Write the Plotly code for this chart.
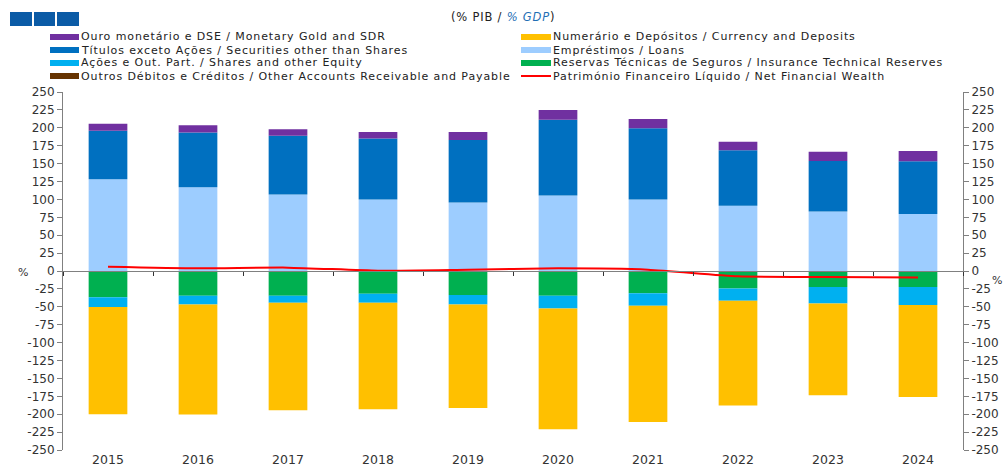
import plotly.graph_objects as go

# Household financial balance sheet, % of GDP
years = ["2015", "2016", "2017", "2018", "2019", "2020", "2021", "2022", "2023", "2024"]

# assets (stacked upwards)
loans = [128, 117, 107, 100, 95.5, 105.3, 99.7, 91.3, 83, 79.6]
securities = [68, 76.5, 82, 85, 87.5, 106, 99.6, 77.3, 70.6, 73.6]
gold_sdr = [9.7, 10, 9, 9, 11, 13.6, 13, 12, 13, 14.4]

# liabilities (stacked downwards)
insurance = [-36.7, -34.4, -34.4, -31.6, -33.5, -34.4, -31.2, -24.3, -22.4, -22.4]
shares = [-13.6, -12.5, -9.8, -12.6, -13.4, -18.1, -17.4, -17.3, -22.9, -25.2]
currency = [-149.7, -153.6, -150.4, -149, -144.4, -168.5, -162.4, -146.4, -128.3, -128.4]
other_accounts = [0, 0, 0, 0, 0, 0, 0, 0, 0, 0]

net_wealth = [6, 3.7, 4.7, 0.5, 1.9, 3.7, 1.9, -7.4, -8.3, -9.2]

y_tickvals = list(range(-250, 251, 25))
y_ticktext = [str(v) for v in y_tickvals]

names = {
    "gold": "Ouro monetário e DSE / Monetary Gold and SDR",
    "currency": "Numerário e Depósitos / Currency and Deposits",
    "securities": "Títulos exceto Ações / Securities other than Shares",
    "loans": "Empréstimos / Loans",
    "shares": "Ações e Out. Part. / Shares and other Equity",
    "insurance": "Reservas Técnicas de Seguros / Insurance Technical Reserves",
    "other": "Outros Débitos e Créditos / Other Accounts Receivable and Payable",
    "net": "Património Financeiro Líquido / Net Financial Wealth",
}
colors = {
    "gold": "#7030A0",
    "currency": "#FFC000",
    "securities": "#0070C0",
    "loans": "#9DCDFF",
    "shares": "#00B0F0",
    "insurance": "#00B050",
    "other": "#663300",
    "net": "#FF0000",
}

FONT = "DejaVu Sans"
W, H = 1004, 468
ML, MR, MT, MB = 63, 41, 92, 18


def px_x(x):
    return (x - ML) / (W - ML - MR)


def px_y(y):
    return (H - MB - y) / (H - MT - MB)


fig = go.Figure()

bar_series = [
    ("loans", loans),
    ("securities", securities),
    ("gold", gold_sdr),
    ("insurance", insurance),
    ("shares", shares),
    ("currency", currency),
    ("other", other_accounts),
]
for key, vals in bar_series:
    fig.add_trace(go.Bar(
        x=years, y=vals, name=names[key], marker_color=colors[key],
        marker_line_width=0, showlegend=False,
    ))

fig.add_trace(go.Scatter(
    x=years, y=net_wealth, name=names["net"], mode="lines",
    line=dict(color=colors["net"], width=2, shape="spline", smoothing=0.6),
    xaxis="x2", yaxis="y2", showlegend=False,
))

axis_line = "#808080"
tick_font = dict(family=FONT, size=12, color="#333333")
fig.update_layout(
    template="none",
    width=W, height=H,
    margin=dict(l=ML, r=MR, t=MT, b=MB, autoexpand=False),
    paper_bgcolor="white", plot_bgcolor="white",
    barmode="relative", bargap=0.57,
    font=dict(family=FONT, size=12, color="#333333"),
    xaxis=dict(
        type="category", range=[-0.5, 9.5], showline=False, ticks="",
        showgrid=False, zeroline=False, automargin=False,
        tickfont=dict(family=FONT, size=12.5, color="#333333"),
    ),
    xaxis2=dict(
        type="category", overlaying="x", anchor="free", position=0.5,
        range=[-0.5, 9.5], showline=True, linecolor=axis_line, linewidth=1,
        ticks="outside", tickson="boundaries", ticklen=4, tickcolor="#333333",
        showticklabels=False, showgrid=False, zeroline=False, automargin=False,
    ),
    yaxis=dict(
        range=[-250, 250], tickvals=y_tickvals, ticktext=y_ticktext,
        showline=True, linecolor=axis_line, linewidth=1,
        ticks="outside", ticklen=5, tickcolor=axis_line,
        showgrid=False, zeroline=False, automargin=False, tickfont=tick_font,
    ),
    yaxis2=dict(
        range=[-250, 250], tickvals=y_tickvals, ticktext=y_ticktext,
        overlaying="y", side="right", anchor="x",
        showline=True, linecolor=axis_line, linewidth=1,
        ticks="outside", ticklen=5, tickcolor=axis_line,
        showgrid=False, zeroline=False, automargin=False, tickfont=tick_font,
    ),
)

shapes = []
annotations = []

# logo blocks
for x0, x1 in [(10, 32), (34, 55), (57, 79)]:
    shapes.append(dict(
        type="rect", xref="paper", yref="paper",
        x0=px_x(x0), x1=px_x(x1), y0=px_y(26), y1=px_y(12),
        fillcolor="#0B5BA6", line_width=0, layer="above",
    ))

# unit title
annotations.append(dict(
    xref="paper", yref="paper", x=px_x(503), y=px_y(17),
    text=("<span style='letter-spacing:0.8px'>(% PIB / "
          "<i><span style='color:#1F6FB5'>% GDP</span></i>)</span>"),
    showarrow=False, font=dict(size=11.5, color="#222222"),
    xanchor="center", yanchor="middle",
))

# legend, two columns
legend_rows = [
    ("gold", "currency"),
    ("securities", "loans"),
    ("shares", "insurance"),
    ("other", "net"),
]
row_y = [37, 50, 63, 76]
col_x = [(50, 79), (521, 551)]
for (k_left, k_right), ry in zip(legend_rows, row_y):
    for key, (sx0, sx1) in zip((k_left, k_right), col_x):
        if key == "net":
            shapes.append(dict(
                type="line", xref="paper", yref="paper",
                x0=px_x(sx0), x1=px_x(sx1), y0=px_y(ry), y1=px_y(ry),
                line=dict(color=colors[key], width=2),
            ))
        else:
            shapes.append(dict(
                type="rect", xref="paper", yref="paper",
                x0=px_x(sx0), x1=px_x(sx1), y0=px_y(ry + 3), y1=px_y(ry - 3),
                fillcolor=colors[key], line_width=0,
            ))
        annotations.append(dict(
            xref="paper", yref="paper", x=px_x(sx1 + 1), y=px_y(ry),
            text=f"<span style='letter-spacing:0.9px'>{names[key]}</span>",
            showarrow=False, xanchor="left", yanchor="middle", borderpad=0,
            font=dict(size=11, color="#222222"),
        ))

# percent markers beside the axes
annotations.append(dict(
    xref="paper", yref="paper", x=px_x(23), y=px_y(272), text="%",
    showarrow=False, xanchor="center", yanchor="middle",
    font=dict(size=11, color="#333333"),
))
annotations.append(dict(
    xref="paper", yref="paper", x=px_x(1003), y=px_y(280), text="%",
    showarrow=False, xanchor="right", yanchor="middle", borderpad=0,
    font=dict(size=11, color="#333333"),
))

fig.update_layout(shapes=shapes, annotations=annotations)

fig.write_html("out.html")
